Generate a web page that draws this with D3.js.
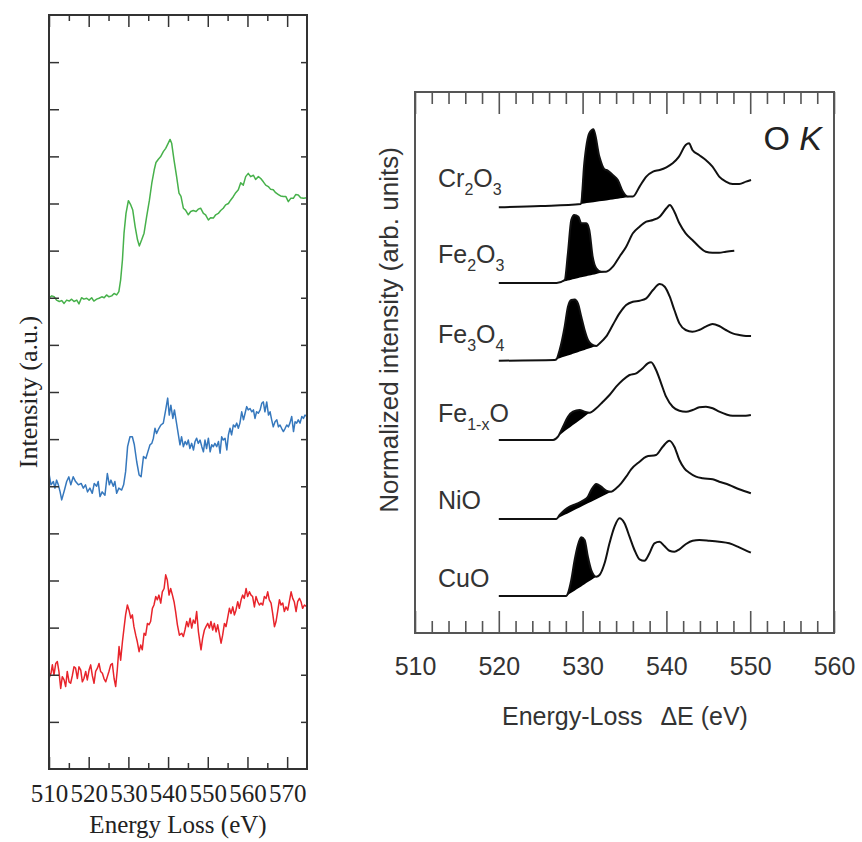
<!DOCTYPE html>
<html><head><meta charset="utf-8">
<script src="https://cdn.jsdelivr.net/npm/d3@7"></script>
<style>body{margin:0;background:#fff}svg{display:block}</style>
</head><body>
<svg id="c" width="862" height="842"></svg>
<script>
// ---------- LEFT PANEL DATA ----------
const leftXTicks = [510,520,530,540,550,560,570];
const leftXMinor = [515,525,535,545,555,565];
const leftYTicks = d3.range(1,16);
const greenSpectrum = [[510.0,10.00],[510.7,10.04],[511.3,10.02],[511.9,9.95],[512.6,9.92],[513.2,9.94],[513.8,9.88],[514.45,9.95],[515.1,9.93],[515.7,9.97],[516.3,9.92],[517.0,9.95],[517.55,9.87],[518.2,10.00],[518.8,9.97],[519.5,9.99],[520.1,9.95],[520.75,10.00],[521.3,9.93],[522.0,9.97],[522.6,9.99],[523.3,10.02],[523.9,10.00],[524.5,10.06],[525.1,10.02],[525.8,10.04],[526.4,10.09],[527.05,10.06],[527.6,10.13],[528.05,10.38],[528.5,10.80],[528.9,11.37],[529.4,11.79],[530.0,12.06],[530.6,11.97],[531.1,11.86],[531.7,11.51],[532.3,11.23],[532.75,11.10],[533.35,11.23],[533.95,11.37],[534.6,11.72],[535.3,12.07],[535.9,12.43],[536.5,12.71],[536.95,12.87],[537.55,12.94],[538.1,12.99],[538.8,13.10],[539.4,13.17],[540.05,13.28],[540.5,13.36],[540.9,13.28],[541.5,12.92],[542.15,12.57],[542.75,12.22],[543.25,12.15],[543.85,11.90],[544.4,11.86],[545.1,11.76],[545.7,11.83],[546.35,11.85],[547.05,11.83],[547.6,11.88],[548.2,11.90],[548.9,11.79],[549.45,11.76],[550.15,11.65],[550.7,11.70],[551.4,11.69],[552.0,11.76],[552.65,11.79],[553.25,11.85],[553.9,11.90],[554.5,11.97],[555.2,12.00],[555.75,12.07],[556.45,12.15],[557.05,12.23],[557.7,12.29],[558.3,12.44],[558.95,12.39],[559.55,12.57],[560.2,12.64],[560.8,12.57],[561.5,12.60],[562.05,12.51],[562.75,12.57],[563.35,12.53],[564.0,12.46],[564.6,12.39],[565.25,12.36],[565.85,12.30],[566.5,12.29],[567.1,12.23],[567.8,12.19],[568.35,12.16],[569.05,12.15],[569.65,12.15],[570.3,12.04],[570.9,12.11],[571.55,12.11],[572.15,12.19],[572.8,12.18],[573.4,12.12],[574.1,12.11],[575.0,12.12]];
const blueSpectrum = [[510.0,6.27],[510.5,6.03],[511.1,6.10],[511.5,5.96],[511.9,6.13],[512.35,6.03],[512.8,5.88],[513.2,5.71],[513.9,5.92],[514.45,6.10],[515.0,6.20],[515.5,6.03],[516.1,6.20],[516.7,6.10],[517.4,6.03],[518.1,6.06],[518.65,5.96],[519.2,6.03],[519.7,5.88],[520.3,5.96],[520.9,5.85],[521.4,6.06],[522.0,6.00],[522.4,6.10],[522.85,5.78],[523.4,5.88],[524.1,5.81],[524.7,6.27],[525.2,6.03],[525.6,6.13],[526.2,6.00],[526.6,6.10],[527.05,5.85],[527.6,5.96],[528.3,5.92],[528.8,6.03],[529.3,6.31],[529.8,6.84],[530.4,7.05],[531.0,7.05],[531.5,6.88],[532.1,6.52],[532.7,6.24],[533.2,6.20],[533.8,6.63],[534.4,6.59],[534.9,6.73],[535.45,6.88],[535.9,6.91],[536.3,7.02],[536.7,7.23],[537.1,7.12],[537.7,7.23],[538.2,7.30],[538.8,7.34],[539.4,7.62],[539.9,7.87],[540.3,7.51],[540.7,7.72],[541.2,7.44],[541.6,7.62],[542.2,7.30],[542.6,7.09],[543.0,6.88],[543.4,7.05],[543.85,6.84],[544.3,6.95],[544.7,6.88],[545.1,6.98],[545.5,6.80],[545.95,6.91],[546.4,6.77],[546.8,6.95],[547.2,7.02],[547.6,6.91],[548.05,6.98],[548.5,6.84],[548.9,6.73],[549.3,6.98],[549.7,6.80],[550.15,7.02],[550.6,6.73],[551.0,6.88],[551.4,6.84],[551.8,6.91],[552.25,6.84],[552.7,6.95],[553.1,6.70],[553.5,7.05],[553.9,6.98],[554.35,7.02],[554.8,6.77],[555.2,7.09],[555.6,7.23],[556.0,7.09],[556.45,7.30],[556.9,7.26],[557.3,7.34],[557.7,7.23],[558.1,7.34],[558.55,7.58],[559.0,7.41],[559.4,7.55],[559.8,7.69],[560.2,7.62],[560.65,7.65],[561.1,7.58],[561.5,7.62],[561.9,7.44],[562.3,7.58],[562.75,7.55],[563.2,7.62],[563.6,7.76],[564.0,7.79],[564.4,7.58],[564.85,7.79],[565.3,7.51],[565.7,7.58],[566.1,7.41],[566.5,7.26],[566.95,7.37],[567.4,7.41],[567.8,7.26],[568.2,7.30],[568.6,7.23],[569.05,7.16],[569.5,7.23],[569.9,7.30],[570.3,7.26],[570.7,7.34],[571.15,7.48],[571.6,7.16],[572.0,7.37],[572.4,7.34],[572.8,7.41],[573.25,7.34],[573.7,7.48],[574.1,7.44],[574.5,7.51],[575.0,7.48]];
const redSpectrum = [[510.0,1.92],[510.5,2.03],[510.85,2.21],[511.25,1.99],[511.7,2.24],[512.1,2.28],[512.5,2.07],[512.95,1.71],[513.35,1.96],[513.8,1.89],[514.2,1.75],[514.6,2.07],[515.05,1.85],[515.45,1.82],[515.9,1.99],[516.3,2.17],[516.7,2.14],[517.15,1.92],[517.55,2.17],[518.0,2.10],[518.4,1.85],[518.8,1.92],[519.25,2.07],[519.65,1.89],[520.1,2.10],[520.5,2.21],[520.9,1.99],[521.35,1.82],[521.75,2.07],[522.2,2.14],[522.6,2.24],[523.0,2.07],[523.45,2.03],[523.85,1.92],[524.3,1.85],[524.7,1.96],[525.1,2.07],[525.55,2.21],[525.95,2.24],[526.4,1.92],[526.8,1.75],[527.2,2.10],[527.65,2.60],[528.05,2.31],[528.5,2.70],[528.9,2.99],[529.3,3.27],[529.75,3.48],[530.15,3.37],[530.6,3.20],[531.0,3.27],[531.4,3.02],[531.85,2.84],[532.25,2.70],[532.7,2.49],[533.1,2.63],[533.5,2.53],[533.95,2.88],[534.35,2.84],[534.8,3.09],[535.2,3.06],[535.6,3.13],[536.05,3.41],[536.45,3.48],[536.9,3.66],[537.3,3.59],[537.7,3.69],[538.15,3.52],[538.55,3.76],[539.0,3.83],[539.4,4.12],[539.8,4.01],[540.25,3.69],[540.65,3.83],[541.1,3.69],[541.5,3.55],[541.9,3.34],[542.35,3.06],[542.85,2.84],[543.45,2.88],[543.85,2.81],[544.25,2.95],[544.7,3.13],[545.1,3.02],[545.55,3.20],[545.95,2.99],[546.35,3.16],[546.8,3.09],[547.2,3.34],[547.65,2.91],[548.05,2.67],[548.3,2.53],[548.7,2.77],[549.15,2.95],[549.55,3.02],[550.0,3.09],[550.4,2.99],[550.8,3.13],[551.25,2.95],[551.65,3.09],[552.1,2.91],[552.5,3.06],[552.9,2.88],[553.35,2.67],[553.75,2.84],[554.2,3.09],[554.6,3.02],[555.0,3.20],[555.45,3.41],[555.85,3.30],[556.3,3.44],[556.7,3.27],[557.1,3.37],[557.55,3.55],[557.95,3.41],[558.4,3.59],[558.8,3.69],[559.2,3.62],[559.65,3.83],[560.05,3.66],[560.5,3.76],[560.9,3.69],[561.3,3.66],[561.75,3.44],[562.15,3.66],[562.6,3.55],[563.0,3.48],[563.4,3.52],[563.85,3.48],[564.25,3.66],[564.7,3.62],[565.1,3.76],[565.5,3.59],[565.95,3.52],[566.35,3.30],[566.8,3.02],[567.2,3.13],[567.6,3.34],[568.05,3.59],[568.45,3.48],[568.9,3.52],[569.3,3.34],[569.7,3.44],[570.15,3.37],[570.55,3.55],[571.0,3.76],[571.4,3.62],[571.8,3.55],[572.25,3.34],[572.65,3.55],[573.1,3.62],[573.5,3.55],[573.9,3.41],[574.35,3.48],[575.0,3.44]];
const leftSeriesColors = ["#47b14b","#3678bd","#e8242b"];

// ---------- RIGHT PANEL DATA ----------
const rightXTicks = [510,520,530,540,550,560];
const rightXMinor = d3.range(512,560,2).filter(v => v % 10 !== 0);
const compounds = ["Cr2O3","Fe2O3","Fe3O4","Fe1-xO","NiO","CuO"];
const compoundOffsets = [42.57,35.0,27.23,19.3,11.4,3.7];
const labelRise = [2.0,2.0,1.8,1.8,1.0,0.9];
const cr2o3 = [[520.0,0],[525.0,0.13],[529.8,0.33],[530.2,4.4],[530.8,7.4],[531.3,7.8],[532.0,5.07],[532.6,3.8],[533.0,3.67],[533.6,3.23],[534.2,2.73],[534.8,1.57],[535.4,1.07],[536.0,1.07],[536.8,2.07],[537.6,3.07],[538.4,3.57],[539.2,3.73],[540.0,4.0],[540.75,4.4],[541.5,5.07],[542.3,6.23],[542.7,6.4],[543.1,5.73],[543.9,5.23],[544.7,4.73],[545.5,4.07],[546.3,3.07],[547.1,2.57],[547.9,2.33],[548.7,2.33],[549.5,2.57],[550.1,2.73]];
const fe2o3 = [[520.0,0],[526.9,0],[527.86,0.3],[528.25,3.0],[528.65,6.3],[529.0,6.8],[529.5,6.63],[529.84,5.97],[530.44,5.97],[530.8,5.3],[531.2,2.63],[531.63,1.47],[532.22,1.13],[532.8,1.13],[533.61,1.63],[534.4,2.63],[535.2,3.63],[536.0,4.97],[536.8,5.63],[537.6,6.13],[538.4,6.3],[539.2,6.63],[540.0,7.47],[540.4,7.8],[540.95,7.13],[541.55,5.97],[542.3,4.97],[543.1,4.3],[543.9,3.63],[544.7,3.13],[545.5,3.03],[546.3,3.03],[547.1,3.13],[548.1,3.23]];
const fe3o4 = [[520.0,0],[526.67,0.07],[526.87,0.13],[527.26,1.07],[527.86,3.4],[528.25,5.4],[528.65,6.07],[529.05,6.13],[529.44,5.73],[529.84,4.4],[530.24,3.07],[530.64,2.07],[531.03,1.67],[531.63,1.47],[532.02,1.73],[532.8,2.4],[533.6,3.57],[534.4,4.73],[535.2,5.57],[536.0,5.9],[536.8,6.0],[537.6,6.23],[538.4,7.07],[539.2,7.67],[539.8,7.4],[540.4,6.4],[540.95,5.07],[541.55,3.73],[542.3,3.07],[543.1,2.9],[543.9,3.07],[544.7,3.4],[545.5,3.67],[546.3,3.47],[547.1,3.07],[547.9,2.73],[548.7,2.57],[549.5,2.47],[550.1,2.47]];
const fe1xo = [[520.0,0],[526.47,0],[527.06,0.33],[527.66,1.33],[528.25,2.33],[528.85,2.83],[529.64,3.0],[530.24,2.83],[530.83,2.73],[531.63,3.17],[532.42,3.83],[533.21,4.5],[534.01,5.33],[534.8,6.0],[535.6,6.5],[536.4,6.67],[537.18,7.17],[537.78,7.67],[538.17,7.77],[538.77,7.0],[539.37,5.67],[539.96,4.33],[540.75,3.33],[541.55,2.93],[542.34,2.83],[543.13,3.0],[543.93,3.27],[544.72,3.33],[545.52,3.17],[546.31,2.83],[547.1,2.57],[547.9,2.43],[548.69,2.43],[549.48,2.43],[550.08,2.5]];
const nio = [[520.0,0],[526.87,0],[527.26,0.4],[527.86,0.9],[528.45,1.23],[529.25,1.5],[530.04,1.83],[530.63,2.23],[531.03,2.9],[531.63,3.5],[532.22,3.23],[532.82,2.83],[533.41,2.73],[534.01,3.07],[534.6,3.57],[535.2,4.23],[535.79,4.97],[536.79,5.73],[537.58,6.23],[538.77,6.4],[539.56,7.23],[540.36,7.83],[540.95,7.23],[541.55,5.9],[542.14,5.07],[542.74,4.63],[543.53,4.23],[544.33,4.07],[545.52,3.97],[546.31,3.73],[547.5,3.4],[548.69,2.97],[550.08,2.57]];
const cuo = [[520.0,0],[528.06,0],[528.25,0.27],[528.65,1.6],[529.05,3.6],[529.44,5.1],[529.84,5.87],[530.24,5.6],[530.63,3.93],[531.03,2.6],[531.63,1.93],[532.02,2.1],[532.62,3.27],[533.21,5.27],[533.81,6.93],[534.4,7.77],[535.0,7.27],[535.6,5.93],[536.19,4.6],[536.79,3.67],[537.38,3.53],[537.98,4.27],[538.57,5.27],[539.17,5.43],[539.76,5.0],[540.36,4.53],[540.95,4.43],[541.55,4.67],[542.34,5.2],[543.13,5.53],[543.93,5.6],[545.12,5.53],[546.31,5.43],[547.5,5.27],[548.69,4.87],[550.08,4.33]];
const preEdgeRanges = [[529.8,536.0],[526.9,532.8],[526.87,531.63],[526.47,530.83],[526.87,533.41],[528.06,531.63]];

// ---------- DRAW ----------
const svg = d3.select("#c");
const serif = "'Liberation Serif','Times New Roman',serif";
const sans = "'Liberation Sans',Arial,Helvetica,sans-serif";

// Left panel
const xL = d3.scaleLinear().domain([510,575]).range([49,307]);
const yL = d3.scaleLinear().domain([0,16]).range([769,15]);
const gL = svg.append("g");
const leftSeries = [greenSpectrum, blueSpectrum, redSpectrum];
const lineL = d3.line().x(d => xL(d[0])).y(d => yL(d[1]));
leftSeries.forEach((s,i) => {
  gL.append("path").attr("d", lineL(s)).attr("fill","none")
    .attr("stroke", leftSeriesColors[i]).attr("stroke-width",1.5).attr("stroke-linejoin","round");
});
function styleAxis(g, color, w){
  g.select(".domain").remove();
  g.selectAll("line").attr("stroke", color).attr("stroke-width", w);
}
let a;
a = gL.append("g").attr("transform",`translate(0,${yL(0)})`)
  .call(d3.axisBottom(xL).tickValues(leftXTicks).tickSize(-12).tickFormat(d3.format("d")));
styleAxis(a,"#333",1.5);
a.selectAll("text").attr("y",33).attr("dy",null).attr("font-family",serif).attr("font-size",25).attr("fill","#222");
a = gL.append("g").attr("transform",`translate(0,${yL(0)})`)
  .call(d3.axisBottom(xL).tickValues(leftXMinor).tickSize(-6).tickFormat(""));
styleAxis(a,"#333",1.5);
a = gL.append("g").attr("transform",`translate(0,${yL(16)})`)
  .call(d3.axisTop(xL).tickValues(leftXTicks).tickSize(-12).tickFormat(""));
styleAxis(a,"#333",1.5);
a = gL.append("g").attr("transform",`translate(0,${yL(16)})`)
  .call(d3.axisTop(xL).tickValues(leftXMinor).tickSize(-6).tickFormat(""));
styleAxis(a,"#333",1.5);
a = gL.append("g").attr("transform",`translate(${xL(510)},0)`)
  .call(d3.axisLeft(yL).tickValues(leftYTicks).tickSize(-10).tickFormat(""));
styleAxis(a,"#333",1.5);
a = gL.append("g").attr("transform",`translate(${xL(575)},0)`)
  .call(d3.axisRight(yL).tickValues(leftYTicks).tickSize(-6).tickFormat(""));
styleAxis(a,"#333",1.5);
gL.append("rect").attr("x",xL(510)).attr("y",yL(16)).attr("width",xL(575)-xL(510)).attr("height",yL(0)-yL(16))
  .attr("fill","none").attr("stroke","#333").attr("stroke-width",2);
gL.append("text").attr("transform",`translate(37,${(yL(0)+yL(16))/2})rotate(-90)`)
  .attr("text-anchor","middle").attr("font-family",serif).attr("font-size",26).attr("fill","#222")
  .text("Intensity (a.u.)");
gL.append("text").attr("x",(xL(510)+xL(575))/2).attr("y",833)
  .attr("text-anchor","middle").attr("font-family",serif).attr("font-size",25).attr("fill","#222")
  .text("Energy Loss (eV)");

// Right panel
const xR = d3.scaleLinear().domain([510,560]).range([415,834]);
const yR = d3.scaleLinear().domain([0,54.1]).range([633,92]);
const gR = svg.append("g");
const rightSeries = [cr2o3, fe2o3, fe3o4, fe1xo, nio, cuo];
rightSeries.forEach((s,i) => {
  const off = compoundOffsets[i];
  const [e0,e1] = preEdgeRanges[i];
  const p0 = s.find(d => d[0]===e0), p1 = s.find(d => d[0]===e1);
  const bg = e => p0[1] + (p1[1]-p0[1])*(e-e0)/(e1-e0);
  const sub = s.filter(d => d[0]>=e0 && d[0]<=e1);
  const area = d3.area().x(d => xR(d[0])).y0(d => yR(off+bg(d[0]))).y1(d => yR(off+d[1])).curve(d3.curveMonotoneX);
  gR.append("path").attr("d", area(sub)).attr("fill","#000");
  const line = d3.line().x(d => xR(d[0])).y(d => yR(off+d[1])).curve(d3.curveMonotoneX);
  gR.append("path").attr("d", line(s)).attr("fill","none").attr("stroke","#111").attr("stroke-width",2).attr("stroke-linejoin","round");
});
a = gR.append("g").attr("transform",`translate(0,${yR(0)})`)
  .call(d3.axisBottom(xR).tickValues(rightXTicks).tickSize(-22).tickFormat(d3.format("d")));
styleAxis(a,"#555",1.6);
a.selectAll("text").attr("y",42).attr("dy",null).attr("font-family",sans).attr("font-size",25).attr("fill","#333");
a = gR.append("g").attr("transform",`translate(0,${yR(0)})`)
  .call(d3.axisBottom(xR).tickValues(rightXMinor).tickSize(-12).tickFormat(""));
styleAxis(a,"#555",1.6);
a = gR.append("g").attr("transform",`translate(0,${yR(54.1)})`)
  .call(d3.axisTop(xR).tickValues(rightXTicks).tickSize(-22).tickFormat(""));
styleAxis(a,"#555",1.6);
a = gR.append("g").attr("transform",`translate(0,${yR(54.1)})`)
  .call(d3.axisTop(xR).tickValues(rightXMinor).tickSize(-12).tickFormat(""));
styleAxis(a,"#555",1.6);
gR.append("rect").attr("x",xR(510)).attr("y",yR(54.1)).attr("width",xR(560)-xR(510)).attr("height",yR(0)-yR(54.1))
  .attr("fill","none").attr("stroke","#555").attr("stroke-width",2);

// compound labels with subscripts
const subParts = {
  "Cr2O3":[["Cr",0],["2",1],["O",0],["3",1]],
  "Fe2O3":[["Fe",0],["2",1],["O",0],["3",1]],
  "Fe3O4":[["Fe",0],["3",1],["O",0],["4",1]],
  "Fe1-xO":[["Fe",0],["1-x",1],["O",0]],
  "NiO":[["NiO",0]],
  "CuO":[["CuO",0]]
};
compounds.forEach((c,i) => {
  const t = gR.append("text").attr("x",438).attr("y",yR(compoundOffsets[i]+labelRise[i]))
    .attr("font-family",sans).attr("font-size",25).attr("fill","#333");
  let prevSub = false;
  subParts[c].forEach(([txt,isSub]) => {
    const ts = t.append("tspan").text(txt);
    if (isSub) { ts.attr("font-size",16).attr("dy", prevSub ? 0 : 8); }
    else { ts.attr("dy", prevSub ? -8 : 0); }
    prevSub = !!isSub;
  });
});
const ok = gR.append("text").attr("x",822).attr("y",150).attr("text-anchor","end")
  .attr("font-family",sans).attr("font-size",34).attr("fill","#222");
ok.append("tspan").text("O ");
ok.append("tspan").attr("font-style","italic").text("K");

gR.append("text").attr("transform",`translate(398,330)rotate(-90)`)
  .attr("text-anchor","middle").attr("font-family",sans).attr("font-size",26).attr("fill","#333")
  .text("Normalized intensity (arb. units)");
const tx = gR.append("text").attr("x",625).attr("y",725).attr("text-anchor","middle")
  .attr("font-family",sans).attr("font-size",25).attr("fill","#333");
tx.append("tspan").text("Energy-Loss");
tx.append("tspan").attr("dx",18).text("\u0394E (eV)");
</script>
</body></html>
